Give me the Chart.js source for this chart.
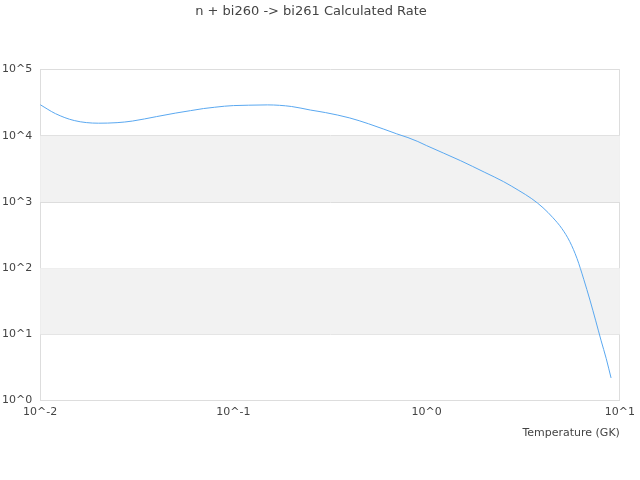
<!DOCTYPE html>
<html>
<head>
<meta charset="utf-8">
<script src="https://cdn.jsdelivr.net/npm/chart.js@4"></script>
<style>
html,body{margin:0;padding:0;background:#fff;}
#wrap{width:640px;height:480px;}
</style>
</head>
<body>
<div id="wrap"><canvas id="c" width="640" height="480"></canvas></div>
<script>
const titleText = "n + bi260 -> bi261 Calculated Rate";
const xAxisTitle = "Temperature (GK)";
const temperatures = [0.01,0.012,0.015,0.02,0.025,0.03,0.04,0.05,0.06,0.07,0.08,0.09,0.1,0.12,0.15,0.2,0.25,0.3,0.4,0.5,0.6,0.7,0.8,0.9,1,1.5,2,2.5,3,3.5,4,4.5,5,5.5,6,6.5,7,7.5,8,8.5,9];
const rates = [29500,21600,17000,15500,15800,16700,19500,22000,24000,25800,27000,28000,28600,29000,29300,27700,24500,22400,18600,15200,12600,10700,9400,8200,7100,4200,2800,2030,1490,1120,820,580,400,253,140,68,33,16,8,4.3,2.2];
const xTickValues = [0.01,0.1,1,10];
const yTickValues = [1,10,100,1000,10000,100000];
const bandRanges = [[10,100],[1000,10000]];

function pow10Label(v){ return "10^" + Math.round(Math.log10(v)); }

const bandPlugin = {
  id: 'bands',
  beforeDatasetsDraw(chart){
    const {ctx, chartArea:a, scales:{y}} = chart;
    ctx.save();
    ctx.fillStyle = '#f2f2f2';
    bandRanges.forEach(([lo,hi])=>{
      const y1 = y.getPixelForValue(hi), y2 = y.getPixelForValue(lo);
      ctx.fillRect(a.left, y1, a.right-a.left, y2-y1);
    });
    ctx.restore();
  }
};

new Chart(document.getElementById('c'), {
  type: 'line',
  data: {
    datasets: [{
      data: temperatures.map((t,i)=>({x:t, y:rates[i]})),
      borderColor: '#5aa8f0',
      borderWidth: 1,
      pointRadius: 0,
      fill: false,
      cubicInterpolationMode: 'monotone'
    }]
  },
  options: {
    responsive: false,
    animation: false,
    devicePixelRatio: 1,
    layout: {padding: {left: 2, right: 20, top: 0, bottom: 40}},
    plugins: {
      legend: {display: false},
      tooltip: {enabled: false},
      title: {display: true, text: titleText, color: '#444', font: {family: 'DejaVu Sans', size: 13, weight: 'normal'}, padding: {top: 4, bottom: 50}}
    },
    scales: {
      x: {
        type: 'logarithmic', min: 0.01, max: 10,
        afterBuildTicks(s){ s.ticks = xTickValues.map(v=>({value:v})); },
        ticks: {callback: v=>pow10Label(v), color: '#444', font: {family: 'DejaVu Sans', size: 11}, maxRotation: 0, autoSkip: false, padding: 5},
        grid: {drawTicks: false, color: ctx => (ctx.tick && ctx.tick.value === 10) ? '#ddd' : 'rgba(0,0,0,0)'},
        border: {color: '#ddd'},
        title: {display: true, text: xAxisTitle, align: 'end', color: '#444', font: {family: 'DejaVu Sans', size: 11}, padding: {top: 3, bottom: 0}}
      },
      y: {
        type: 'logarithmic', min: 1, max: 100000,
        afterBuildTicks(s){ s.ticks = yTickValues.map(v=>({value:v})); },
        ticks: {callback: v=>pow10Label(v), color: '#444', font: {family: 'DejaVu Sans', size: 11}, padding: 4, crossAlign: 'far'},
        grid: {drawTicks: false, color: '#ddd'},
        border: {color: '#ddd'}
      }
    }
  },
  plugins: [bandPlugin]
});
</script>
</body>
</html>
